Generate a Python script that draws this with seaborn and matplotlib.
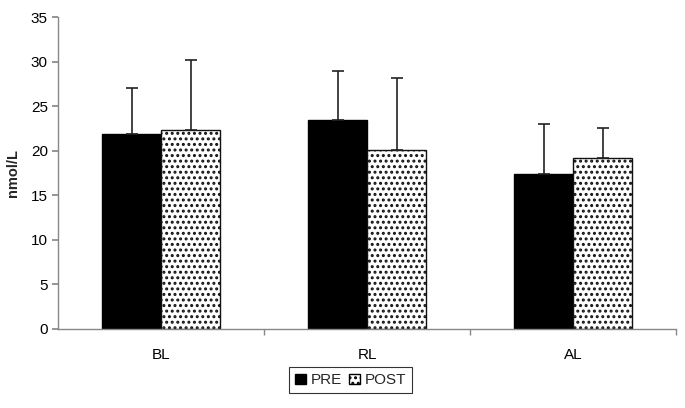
import pandas as pd
import matplotlib
matplotlib.use("Agg")
import matplotlib.pyplot as plt
import seaborn as sns
from matplotlib.patches import Patch

# Valores
grupos = ["BL", "RL", "AL"]
pre_media = [21.9, 23.5, 17.4]
pos_media = [22.3, 20.1, 19.2]
pre_dp = [5.1, 5.4, 5.6]
pos_dp = [7.9, 8.1, 3.4]

sns.set_theme(style="white")
plt.rcParams["font.family"] = ["Liberation Sans", "DejaVu Sans"]
plt.rcParams["hatch.linewidth"] = 1.4

df = pd.DataFrame({
    "grupo": grupos * 2,
    "fase": ["PRE"] * 3 + ["POST"] * 3,
    "valor": pre_media + pos_media,
})

fig = plt.figure(figsize=(6.85, 4.08), dpi=100)
ax = fig.add_axes([0.085, 0.194, 0.902, 0.764])

sns.barplot(data=df, x="grupo", y="valor", hue="fase", order=grupos,
            hue_order=["PRE", "POST"], palette={"PRE": "black", "POST": "white"},
            width=0.574, errorbar=None, edgecolor="black", linewidth=1.0,
            saturation=1, legend=False, ax=ax)

# barras POST pontilhadas
for bar in ax.containers[1]:
    bar.set_hatch("...")
    bar.set_edgecolor("#111111")

# barras de erro só para cima
for cont, dp in zip(ax.containers, [pre_dp, pos_dp]):
    xs = [b.get_x() + b.get_width() / 2 for b in cont]
    ys = [b.get_height() for b in cont]
    ax.errorbar(xs, ys, yerr=[[0] * len(dp), dp], fmt="none", ecolor="#222222",
                elinewidth=1.2, capsize=4, capthick=1.2)

ax.set_ylim(0, 35)
ax.set_xlim(-0.5, 2.5)
ax.set_yticks(range(0, 36, 5))
ax.set_xlabel("")
ax.set_ylabel("nmol/L", fontsize=10.5, fontweight="bold", labelpad=8)
ax.tick_params(axis="both", labelsize=11, colors="black")
ax.tick_params(axis="y", left=True, length=4, color="#888888", direction="out")
ax.tick_params(axis="x", bottom=False, pad=8)
ax.set_xticks([0.5, 1.5, 2.5], minor=True)
ax.tick_params(axis="x", which="minor", bottom=True, length=4, color="#888888", direction="out")
for s in ["top", "right"]:
    ax.spines[s].set_visible(False)
for s in ["left", "bottom"]:
    ax.spines[s].set_color("#888888")
    ax.spines[s].set_linewidth(1.0)

handles = [Patch(facecolor="black", edgecolor="black", label="PRE"),
           Patch(facecolor="white", edgecolor="black", hatch="...", label="POST")]
leg = fig.legend(handles=handles, loc="center", bbox_to_anchor=(0.512, 0.068), ncol=2,
                 frameon=True, fancybox=False, fontsize=11, handlelength=0.7,
                 handleheight=0.7, handletextpad=0.3, columnspacing=0.5,
                 borderpad=0.4)
leg.get_frame().set_edgecolor("black")
leg.get_frame().set_linewidth(0.8)

plt.savefig("out.png", dpi=100)
plt.close()
